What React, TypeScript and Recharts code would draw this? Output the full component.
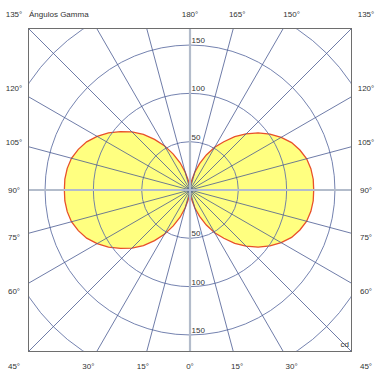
import { RadarChart, Radar, PolarGrid, PolarAngleAxis, PolarRadiusAxis } from "recharts";

// luminous intensity (cd), 5° steps
const gammaRight = [0, 5, 10, 15, 20, 25, 30, 35, 40, 45, 50, 55, 60, 65, 70, 75, 80, 85, 90, 95, 100, 105, 110, 115, 120, 125, 130, 135, 140, 145, 150, 155, 160, 165, 170, 175, 180];
const cdRight = [0, 4, 10, 19, 29, 40, 51, 61, 72, 82, 92, 101, 109, 116, 121, 125, 127, 128, 128, 128, 127, 125, 121, 116, 109, 101, 92, 82, 72, 61, 51, 40, 29, 19, 10, 4, 0];
const gammaLeft = [175, 170, 165, 160, 155, 150, 145, 140, 135, 130, 125, 120, 115, 110, 105, 100, 95, 90, 85, 80, 75, 70, 65, 60, 55, 50, 45, 40, 35, 30, 25, 20, 15, 10, 5];
const cdLeft = [4, 10, 19, 30, 41, 53, 64, 75, 85, 94, 103, 111, 118, 123, 127, 129, 130, 130, 130, 129, 127, 123, 118, 111, 103, 94, 85, 75, 64, 53, 41, 30, 19, 10, 4];

// dial positions (0 = down, counter-clockwise) of the rays, and the printed labels
const rayPos = [0, 15, 30, 45, 60, 75, 90, 105, 120, 135, 150, 165, 180, 195, 210, 225, 240, 255, 270, 285, 300, 315, 330, 345];
const labelPos = [0, 15, 30, 45, 60, 75, 90, 105, 120, 135, 150, 165, 180, 225, 240, 255, 270, 285, 300, 315, 330, 345];
const labelText = ["0°", "15°", "30°", "45°", "60°", "75°", "90°", "105°", "120°", "135°", "150°", "165°", "180°", "135°", "120°", "105°", "90°", "75°", "60°", "45°", "30°", "15°"];
const radiusTicks = [50, 100, 150, 200];

const data = [
  ...gammaRight.map((g, i) => ({ pos: g, cd: cdRight[i] })),
  ...gammaLeft.map((g, i) => ({ pos: 360 - g, cd: cdLeft[i] })),
];

// dial position -> recharts angle
const rayAngles = rayPos.filter((p) => p % 90 !== 0).map((p) => p - 90);
const axisAngles = rayPos.filter((p) => p % 90 === 0).map((p) => p - 90);

const FONT = "'Liberation Sans', Arial, sans-serif";
const TEXT = "#333";
const C = 190;
const IC = 161;
const LABEL_HALF = 176;
const DOMAIN: [number, number] = [0, 238];

const AngleTick = (props: any) => {
  const { x, y, payload } = props;
  const i = labelPos.indexOf(payload.value);
  if (i < 0) return null;
  const dx = x - C;
  const dy = y - C;
  const s = LABEL_HALF / Math.max(Math.abs(dx), Math.abs(dy));
  return (
    <text x={C + dx * s} y={C + dy * s} textAnchor="middle" dominantBaseline="central" fontSize={8} fontFamily={FONT} fill={TEXT}>
      {labelText[i]}
    </text>
  );
};

// the same scale values are printed above and below the centre, inside the frame only
const RadiusTick = (props: any) => {
  const { x, y, payload } = props;
  if (y < 10) return null;
  return (
    <g>
      <text x={x + 1.5} y={y - 2} fontSize={8} fontFamily={FONT} fill={TEXT}>
        {payload.value}
      </text>
      <text x={x + 1.5} y={2 * IC - y - 2} fontSize={8} fontFamily={FONT} fill={TEXT}>
        {payload.value}
      </text>
    </g>
  );
};

const chartProps = {
  width: 322,
  height: 322,
  cx: IC,
  cy: IC,
  innerRadius: 0,
  outerRadius: 230,
  startAngle: -90,
  endAngle: 270,
  data,
  margin: { top: 0, right: 0, bottom: 0, left: 0 },
};

const layer: React.CSSProperties = { position: "absolute", left: 0, top: 0 };

export default function App() {
  return (
    <div style={{ position: "absolute", left: 0, top: 0, width: 380, height: 380, background: "#fff" }}>
      <div style={layer}>
        <RadarChart width={380} height={380} cx={C} cy={C} outerRadius={150} startAngle={-90} endAngle={270} data={data} margin={{ top: 0, right: 0, bottom: 0, left: 0 }}>
          <PolarAngleAxis dataKey="pos" type="number" domain={[0, 360]} ticks={labelPos} tick={AngleTick} axisLine={false} tickLine={false} />
        </RadarChart>
      </div>
      <div style={{ position: "absolute", left: 28, top: 28, width: 324, height: 324, border: "1px solid #6e6e6e", boxSizing: "border-box", overflow: "hidden" }}>
        <div style={layer}>
          <RadarChart {...chartProps}>
            <PolarAngleAxis dataKey="pos" type="number" domain={[0, 360]} ticks={rayPos} tick={false} axisLine={false} tickLine={false} />
            <PolarRadiusAxis angle={90} type="number" domain={DOMAIN} ticks={radiusTicks} axisLine={false} tickLine={false} tick={false} />
            <Radar dataKey="cd" stroke="#e8502a" strokeWidth={1.3} fill="#ffff80" fillOpacity={1} dot={false} isAnimationActive={false} />
          </RadarChart>
        </div>
        {/* grid drawn over the filled lobes; the unpainted radar only feeds the radius scale */}
        <div style={layer}>
          <RadarChart {...chartProps}>
            <PolarAngleAxis dataKey="pos" type="number" domain={[0, 360]} ticks={rayPos} tick={false} axisLine={false} tickLine={false} />
            <PolarRadiusAxis angle={90} type="number" domain={DOMAIN} ticks={radiusTicks} axisLine={false} tickLine={false} tick={RadiusTick} />
            <Radar dataKey="cd" stroke="none" fill="none" dot={false} legendType="none" isAnimationActive={false} />
            <PolarGrid gridType="circle" radialLines={false} stroke="#6474a6" strokeWidth={0.9} />
            <PolarGrid gridType="circle" polarAngles={rayAngles} polarRadius={[]} stroke="#4a5a92" strokeWidth={0.8} />
            <PolarGrid gridType="circle" polarAngles={axisAngles} polarRadius={[]} stroke="#b3bccb" strokeWidth={2.2} />
          </RadarChart>
        </div>
      </div>
      <svg width={380} height={380} style={{ position: "absolute", left: 0, top: 0, pointerEvents: "none" }}>
        <text x={29} y={17} fontSize={8} fontFamily={FONT} fill={TEXT}>Ángulos Gamma</text>
        <text x={349} y={347} textAnchor="end" fontSize={8} fontFamily={FONT} fill={TEXT}>cd</text>
      </svg>
    </div>
  );
}
